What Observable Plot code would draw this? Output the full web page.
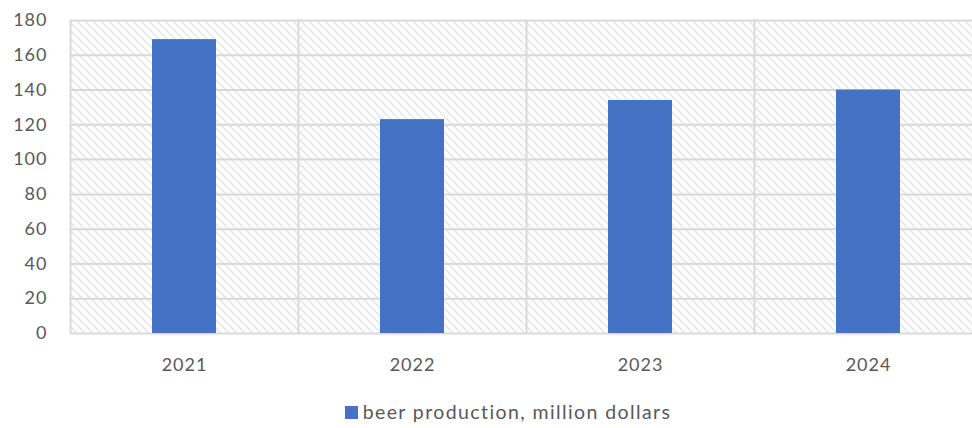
<!DOCTYPE html>
<html>
<head>
<meta charset="utf-8">
<script src="https://cdn.jsdelivr.net/npm/d3@7"></script>
<script src="https://cdn.jsdelivr.net/npm/@observablehq/plot@0.6"></script>
<style>
  html, body { margin: 0; padding: 0; background: #fff; overflow: hidden; }
  #chart svg { overflow: hidden; display: block; }
  #legend { height: 38px; padding-top: 4px; padding-left: 44px; box-sizing: border-box; display: flex; justify-content: center; align-items: center; font-family: Lato, "Open Sans", sans-serif; font-size: 19.5px; color: #595959; letter-spacing: 1.4px; }
  #legend .sw { width: 13px; height: 13px; background: #4472c4; margin-right: 5px; margin-top: 2px; }
</style>
</head>
<body>
<div id="chart"></div>
<div id="legend"><span class="sw"></span><span>beer production, million dollars</span></div>
<script>
const years = ["2021", "2022", "2023", "2024"];
const values = [169, 123, 134, 140];
const yTicks = [0, 20, 40, 60, 80, 100, 120, 140, 160, 180];
const seriesName = "beer production, million dollars";

const data = years.map((y, i) => ({year: y, value: values[i]}));

const W = 972, H = 390, ML = 70, MR = -10, MT = 20, MB = 57;
const step = (W - ML - MR) / years.length;

const plot = Plot.plot({
  width: W,
  height: H,
  marginLeft: ML,
  marginRight: MR,
  marginTop: MT,
  marginBottom: MB,
  style: {fontFamily: "Lato, 'Open Sans', sans-serif", fontSize: "18px", color: "#595959", background: "white"},
  x: {domain: years, type: "band", paddingInner: 0.72, paddingOuter: 0.36, label: null},
  y: {domain: [0, 180], label: null},
  marks: [
    Plot.frame({fill: "url(#hatch)", stroke: null}),
    Plot.gridY(yTicks, {stroke: "#d9d9d9", strokeOpacity: 1, strokeWidth: 2}),
    Plot.ruleX(years, {x: d => d, dx: -step / 2, stroke: "#d9d9d9", strokeWidth: 2}),
    Plot.barY(data, {x: "year", y: "value", fill: "#4472c4"}),
    Plot.axisY(yTicks, {tickSize: 0, tickPadding: 23, fill: "#595959", fontSize: 18}),
    Plot.axisX(years, {tickSize: 0, tickPadding: 25, fill: "#595959", fontSize: 18})
  ]
});

const svg = d3.select(plot);
const defs = svg.insert("defs", ":first-child");
const pat = defs.append("pattern").attr("id", "hatch").attr("patternUnits", "userSpaceOnUse")
  .attr("width", 8).attr("height", 8);
pat.append("rect").attr("width", 8).attr("height", 8).attr("fill", "white");
pat.append("path").attr("d", "M0,0L8,8M-1,7L1,9M7,-1L9,1")
  .attr("stroke", "#d4d4d4").attr("stroke-width", 1.6).attr("stroke-dasharray", "1.6 1.2");
svg.selectAll("text").attr("letter-spacing", "1px");

document.getElementById("chart").appendChild(plot);
</script>
</body>
</html>
